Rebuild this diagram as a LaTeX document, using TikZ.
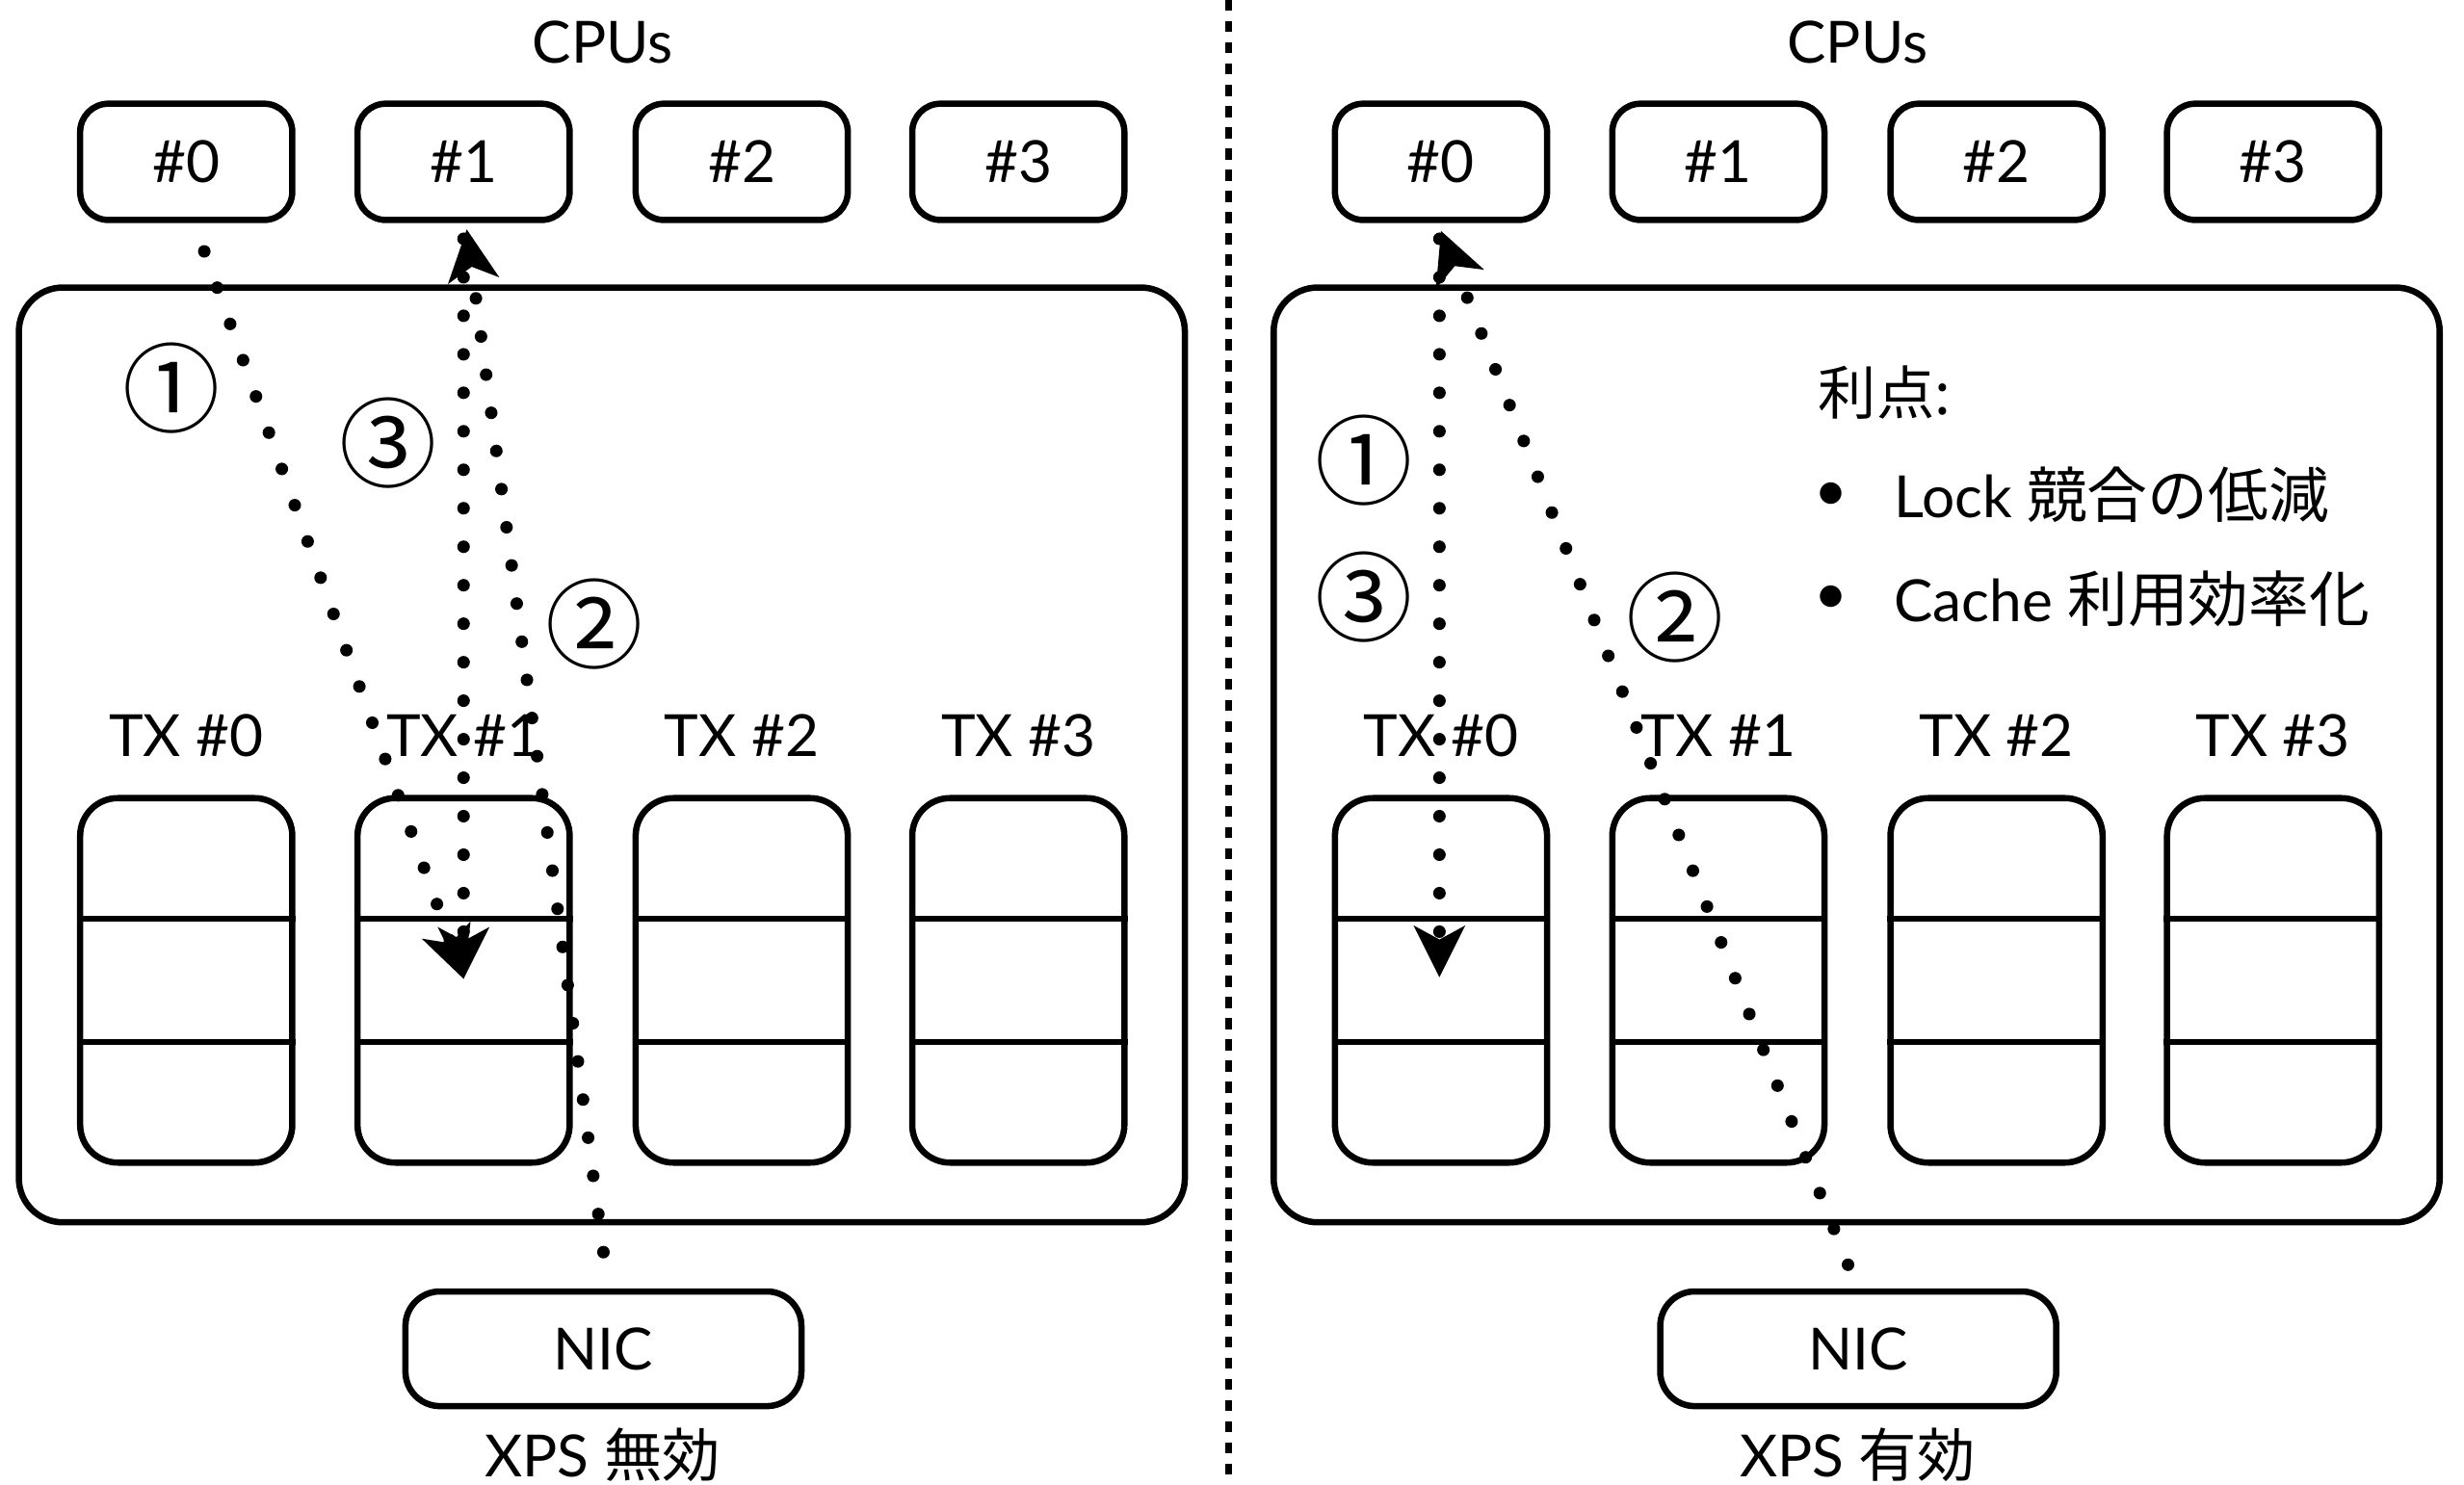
\documentclass[tikz,border=0pt]{standalone}
\usepackage{fontspec}
\setmainfont{Lato}
\newfontfamily\jp{Noto Sans CJK JP}
\usetikzlibrary{arrows.meta,calc}

\begin{document}
\begin{tikzpicture}[x=1pt,y=-1pt,
  txt/.style={font=\fontsize{37}{40}\selectfont, inner sep=0pt},
  cpubox/.style={draw, line width=4pt, rounded corners=18pt, minimum width=135pt,
    minimum height=74pt, inner sep=0pt, font=\fontsize{37}{40}\selectfont},
  queue/.style={draw, line width=4pt, rounded corners=24pt, minimum width=135pt,
    minimum height=232pt, inner sep=0pt},
  nicbox/.style={draw, line width=4pt, rounded corners=22pt, minimum width=252pt,
    minimum height=73pt, inner sep=0pt, font=\fontsize{37}{40}\selectfont},
  frame/.style={draw, line width=4pt, rounded corners=28pt},
  slot/.style={line width=4pt},
  circnum/.style={font=\jp\fontsize{62}{62}\selectfont, inner sep=0pt},
  dotpath/.style={line width=8pt, line cap=round, dash pattern=on 0pt off 24.5pt,
    -{Stealth[length=33pt,width=33pt,inset=9pt,line width=0pt]}},
]
\useasboundingbox (0,0) rectangle (1568,945);

% panel separator
\coordinate (septop) at (782,0);
\coordinate (sepbot) at (782,945);
\draw[line width=4pt, dash pattern=on 7pt off 6.5pt] (septop) -- (sepbot);

% two panels: left without XPS, right with XPS
\foreach \p/\dx in {L/0, R/798.5} {
  \node[txt] (cpus\p) at (383.5+\dx, 27) {CPUs};
  \draw[frame] (12+\dx,183) rectangle (754+\dx,778);
  \foreach \i/\x in {0/118.5, 1/295, 2/472, 3/648} {
    \node[cpubox] (cpu\p\i) at (\x+\dx, 103) {\#\i};
    \node[txt] (txl\p\i) at (\x+\dx, 468) {TX \#\i};
    \node[queue] (tx\p\i) at (\x+\dx, 624) {};
    \draw[slot] ($(tx\p\i.north west)!1/3!(tx\p\i.south west)$) -- ($(tx\p\i.north east)!1/3!(tx\p\i.south east)$);
    \draw[slot] ($(tx\p\i.north west)!2/3!(tx\p\i.south west)$) -- ($(tx\p\i.north east)!2/3!(tx\p\i.south east)$);
  }
  \node[nicbox] (nic\p) at (384+\dx, 858.5) {NIC};
}
\node[txt, anchor=base] (capL) at (383.5, 940) {XPS {\jp 無効}};
\node[txt, anchor=base] (capR) at (1182, 940) {XPS {\jp 有効}};

% benefits list
\node[font=\jp\fontsize{37}{40}\selectfont, inner sep=0pt, anchor=west] (adv) at (1157,250) {利点:};
\node[txt, anchor=center] (bul1) at (1165,316) {•};
\node[txt, anchor=west] (item1) at (1205,315) {Lock {\jp\fontsize{38.5}{40}\selectfont 競合の低減}};
\node[txt, anchor=center] (bul2) at (1165,382) {•};
\node[txt, anchor=west] (item2) at (1205,381) {Cache {\jp\fontsize{38.5}{40}\selectfont 利用効率化}};

% left panel flows
\coordinate (a1s) at (130,160);
\coordinate (a1e) at (295,623);
\coordinate (a2s) at (384,797);
\coordinate (a2e) at (297,146);
\coordinate (a3s) at (295,152);
\coordinate (a3e) at (295,623);
\draw[dotpath] (a1s) -- (a1e);
\draw[dotpath] (a3s) -- (a3e);
\draw[dotpath] (a2s) -- (a2e);
\node[circnum] (nL1) at (109,247) {①};
\node[circnum] (nL3) at (247,282) {③};
\node[circnum] (nL2) at (378,397) {②};

% right panel flows
\coordinate (b1s) at (916,152);
\coordinate (b1e) at (916,622);
\coordinate (b2s) at (1176,805);
\coordinate (b2e) at (917,147);
\draw[dotpath] (b1s) -- (b1e);
\draw[dotpath] (b2s) -- (b2e);
\node[circnum] (nR1) at (868,293) {①};
\node[circnum] (nR3) at (868,380) {③};
\node[circnum] (nR2) at (1066,393) {②};
\end{tikzpicture}
\end{document}
